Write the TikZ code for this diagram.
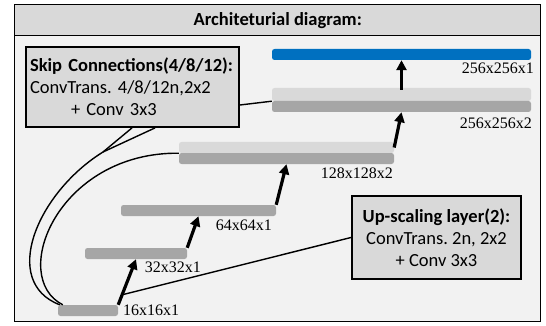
\documentclass[tikz,border=0pt]{standalone}
\usepackage{fontspec}
\setmainfont{Liberation Serif}
\newfontfamily\boxfont{Carlito}
\usetikzlibrary{arrows.meta,calc}
\definecolor{boxgray}{HTML}{D9D9D9}
\definecolor{bggray}{HTML}{F2F2F2}
\definecolor{lightbar}{HTML}{D9D9D9}
\definecolor{darkbar}{HTML}{A6A6A6}
\definecolor{bluebar}{HTML}{0070C0}
\frenchspacing
\begin{document}
\begin{tikzpicture}[x=1pt,y=-1pt,
  bar/.style={rounded corners=2.5pt, inner sep=0pt, draw=none, minimum height=11pt},
  dim/.style={font=\fontsize{16}{18}\selectfont, inner sep=0pt},
  infobox/.style={draw=black, line width=1.8pt, fill=boxgray, inner sep=0pt, font=\boxfont\frenchspacing\fontsize{18.5}{22}\selectfont},
  uparrow/.style={line width=3.2pt, -{Triangle[length=10pt,width=10pt]}},
  link/.style={line width=1.4pt}]
\useasboundingbox[fill=white] (0,0) rectangle (546,326);
% frame and title
\node[draw, line width=1.4pt, fill=bggray, minimum width=526pt, minimum height=286pt, inner sep=0pt, anchor=north west] (frame) at (14,35) {};
\node[draw, line width=1.4pt, fill=boxgray, minimum width=526pt, minimum height=31pt, inner sep=0pt, anchor=north west, font=\boxfont\bfseries\fontsize{18.5}{20}\selectfont] (title) at (14,4) {Architeturial diagram:};
% bars
\node[bar, fill=bluebar, minimum width=259pt] (blue) at (401.5,54.5) {};
\node[bar, fill=lightbar, minimum width=259pt, minimum height=13pt] (l256) at (401.5,94.5) {};
\node[bar, fill=darkbar, minimum width=259pt] (d256) at (401.5,106.5) {};
\node[bar, fill=lightbar, minimum width=215pt] (l128) at (286.5,147.5) {};
\node[bar, fill=darkbar, minimum width=215pt] (d128) at (286.5,158.5) {};
\node[bar, fill=darkbar, minimum width=155pt] (b64) at (198.5,210.5) {};
\node[bar, fill=darkbar, minimum width=102pt] (b32) at (136,253.5) {};
\node[bar, fill=darkbar, minimum width=60pt] (b16) at (88,310.5) {};
% labels
\node[dim, anchor=east] (t1) at (534,68) {256x256x1};
\node[dim, anchor=east] (t2) at (532,123) {256x256x2};
\node[dim, anchor=east] (t3) at (393,173) {128x128x2};
\node[dim, anchor=east] (t4) at (272,225) {64x64x1};
\node[dim, anchor=east] (t5) at (201,267) {32x32x1};
\node[dim, anchor=west] (t6) at (123,310) {16x16x1};
% info boxes
\node[infobox, minimum width=213pt, minimum height=80pt, align=left, text width=205pt] (skip) at (132.5,87) {\textbf{Skip Connections(4/8/12):}\\ConvTrans. 4/8/12n,2x2\\\hspace*{41pt}+ Conv 3x3};
\node[infobox, minimum width=169pt, minimum height=83pt, align=center] (upbox) at (436.5,237.5) {\textbf{Up-scaling layer(2):}\\ConvTrans. 2n, 2x2\\+ Conv 3x3};
% skip connections
\coordinate (j) at (103,152);
\draw[link] ([xshift=2pt]b16.north west) .. controls (0,282) and (37,193) .. (j);
\draw[link] (j) -- ([xshift=-0.5pt]skip.south);
\draw[link] (j) -- ([xshift=22.5pt]skip.south);
\draw[link] ([xshift=5pt]b16.north west) .. controls (8,277) and (58,152) .. (l128.south west);
\draw[link] ($(skip.east)+(0,18)$) -- (l256.south west);
% up-scaling link
\path (b16.north east) -- coordinate[pos=0.22] (m) (b32.south);
\draw[link] (m) -- (upbox.west);
% arrows
\draw[uparrow] (b16.north east) -- (b32.south);
\draw[uparrow] (b32.north east) -- (b64.south);
\draw[uparrow] (b64.north east) -- (d128.south);
\draw[uparrow] (l128.east) -- (d256.south);
\draw[uparrow] ([yshift=-2pt]l256.north) -- (blue.south);
\end{tikzpicture}
\end{document}
